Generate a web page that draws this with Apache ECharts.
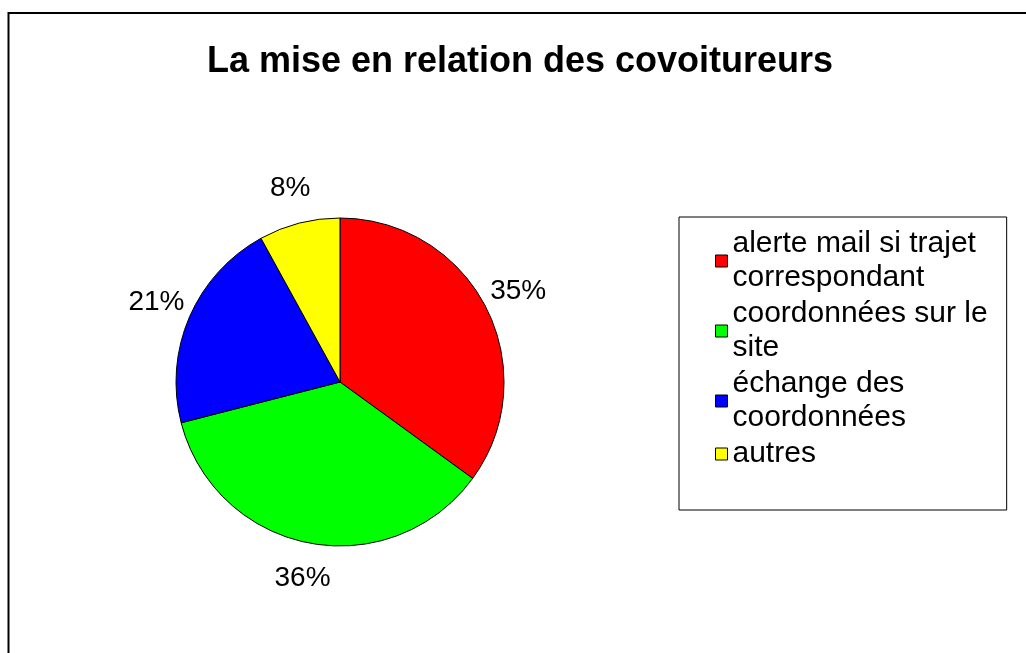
<!DOCTYPE html>
<html>
<head>
<meta charset="utf-8">
<script src="https://cdn.jsdelivr.net/npm/echarts@6/dist/echarts.min.js"></script>
<style>
  html, body { margin: 0; padding: 0; background: #fff; }
  #chart { width: 1026px; height: 653px; }
</style>
</head>
<body>
<div id="chart"></div>
<script>
const TITLE = 'La mise en relation des covoitureurs'
const categories = [
  'alerte mail si trajet correspondant',
  'coordonnées sur le site',
  'échange des coordonnées',
  'autres'
]
// legend text as wrapped in the original
const legendLines = [
  'alerte mail si trajet\ncorrespondant',
  'coordonnées sur le\nsite',
  'échange des\ncoordonnées',
  'autres'
]
const shares = [35, 36, 21, 8]
const colors = ['#ff0000', '#00ff00', '#0000ff', '#ffff00']

const FONT = '"Liberation Sans", Arial, sans-serif'

const chart = echarts.init(document.getElementById('chart'), null, { renderer: 'canvas' })

const sliceData = categories.map((name, i) => ({
  name,
  value: shares[i],
  itemStyle: { color: colors[i] }
}))

chart.setOption({
  backgroundColor: '#ffffff',
  animation: false,
  title: {
    text: TITLE,
    left: 520,
    top: 44,
    padding: 0,
    textAlign: 'center',
    textStyle: { fontFamily: FONT, fontSize: 36, fontWeight: 'bold', color: '#000' }
  },
  legend: {
    orient: 'vertical',
    left: 679,
    top: 217,
    padding: [10, 19, 39, 36],
    itemGap: 2,
    itemWidth: 12,
    itemHeight: 12,
    icon: 'rect',
    borderColor: '#000',
    borderWidth: 1,
    selectedMode: false,
    itemStyle: { borderColor: '#000', borderWidth: 1 },
    formatter: (name) => legendLines[categories.indexOf(name)],
    textStyle: {
      fontFamily: FONT,
      fontSize: 30,
      lineHeight: 34,
      color: '#000',
      width: 252
    },
    data: categories
  },
  graphic: [{
    type: 'rect',
    silent: true,
    shape: { x: 8.5, y: 13, width: 1100, height: 800 },
    style: { fill: 'none', stroke: '#000', lineWidth: 2 }
  }],
  series: [
    {
      type: 'pie',
      center: [340, 382],
      radius: 164,
      startAngle: 90,
      clockwise: true,
      silent: true,
      label: { show: false },
      labelLine: { show: false },
      itemStyle: { borderColor: '#000', borderWidth: 1 },
      data: sliceData
    },
    {
      // transparent ring that only carries the percentage labels
      type: 'pie',
      center: [340, 382],
      radius: [164, 230],
      startAngle: 90,
      clockwise: true,
      silent: true,
      legendHoverLink: false,
      itemStyle: { color: 'rgba(0,0,0,0)', borderWidth: 0 },
      label: {
        show: true,
        position: 'inside',
        formatter: '{d}%',
        fontFamily: FONT,
        fontSize: 28,
        color: '#000'
      },
      labelLine: { show: false },
      data: categories.map((name, i) => ({ name, value: shares[i] }))
    }
  ]
})
</script>
</body>
</html>
